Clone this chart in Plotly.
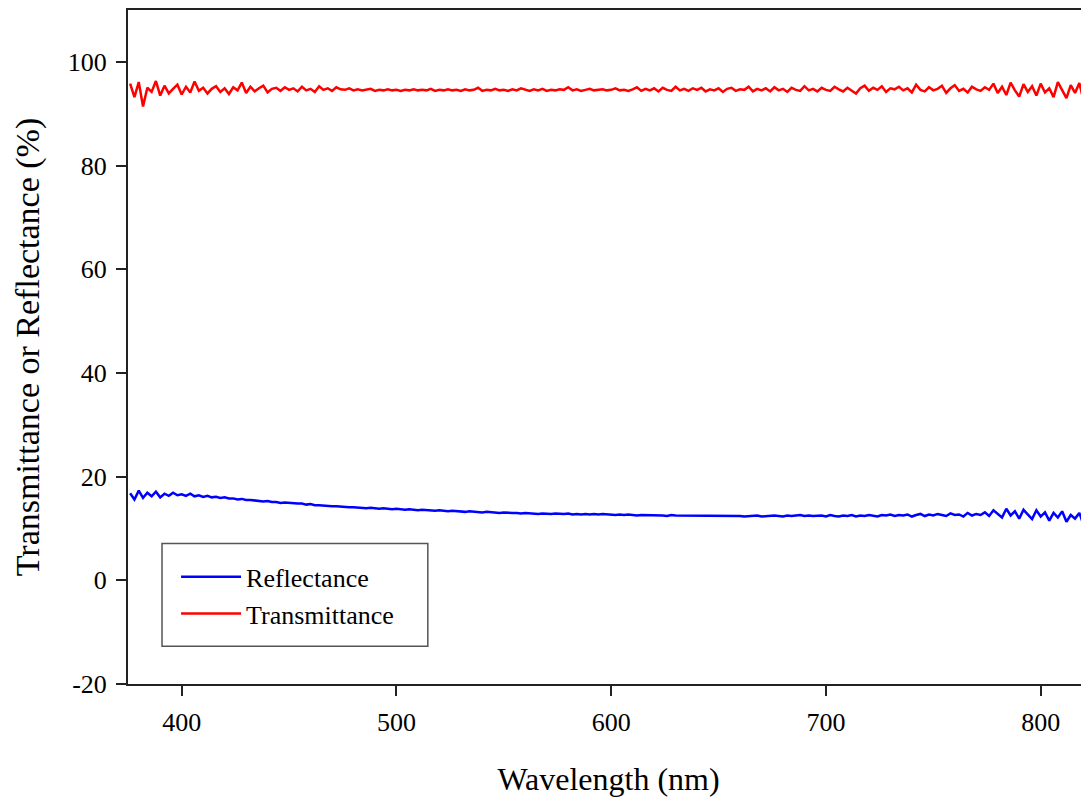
import plotly.graph_objects as go

# wavelength grid (nm), 2 nm steps from 376 to 822
wavelength = list(range(376, 823, 2))

transmittance = [
    95.8, 93.2, 96.1, 91.4, 95.0, 94.2, 96.3, 93.5, 95.4, 93.9,
    94.8, 95.6, 93.7, 95.2, 94.1, 96.2, 94.4, 95.0, 93.9, 94.8,
    95.3, 94.2, 94.9, 93.8, 95.1, 94.5, 96.0, 94.0, 95.2, 94.3,
    94.9, 95.4, 94.1, 94.8, 95.0, 94.4, 95.1, 94.6, 94.9, 94.3,
    95.2, 94.5, 94.8, 94.2, 95.3, 94.6, 94.9, 94.4, 95.1, 94.7,
    94.6, 94.9, 94.5, 94.7, 94.5, 94.6, 94.8, 94.4, 94.6, 94.5,
    94.7, 94.5, 94.6, 94.4, 94.6, 94.5, 94.7, 94.5, 94.6, 94.5,
    94.8, 94.4, 94.6, 94.5, 94.7, 94.5, 94.6, 94.4, 94.7, 94.5,
    94.6, 95.0, 94.4, 94.6, 94.5, 94.8, 94.5, 94.6, 94.4, 94.7,
    94.5, 94.9, 94.6, 94.4, 94.7, 94.5, 94.8, 94.4, 94.6, 94.5,
    94.7, 94.6, 95.1, 94.5, 94.7, 94.4, 94.6, 94.8, 94.5, 94.6,
    94.7, 94.5, 94.6, 94.9, 94.5, 94.6, 94.4, 94.7, 95.1, 94.4,
    94.8, 94.5, 94.9, 94.3, 95.0, 94.6, 94.4, 95.2, 94.5, 94.8,
    94.4, 94.9, 94.6, 95.0, 94.3, 94.7, 94.5, 94.9, 94.2, 94.8,
    95.0, 94.4, 94.7, 94.6, 95.2, 94.3, 94.8, 94.5, 94.9, 94.3,
    95.1, 94.5, 94.8, 94.2, 95.0, 94.6, 94.4, 95.3, 94.5, 94.8,
    94.3, 95.0, 94.6, 94.4, 95.2, 94.7, 94.3, 95.0, 94.5, 93.9,
    94.9, 95.4, 94.4, 95.0, 94.6, 95.3, 94.2, 94.9, 94.7, 95.2,
    94.5, 94.9, 94.1, 95.6, 94.6, 94.3, 95.1, 94.5, 94.8, 95.4,
    94.0, 94.9, 95.5, 94.4, 94.8, 94.1, 95.2, 94.7, 94.4, 95.1,
    94.6, 95.8, 94.0, 95.2, 93.6, 96.0, 94.5, 93.3, 95.7, 94.2,
    95.3, 93.5, 95.8, 94.1, 94.9, 93.2, 96.1, 94.6, 93.0, 95.5,
    94.0, 95.9, 92.5, 97.5,
]

reflectance = [
    16.8, 15.6, 17.3, 15.9, 16.9, 16.2, 17.1, 16.0, 16.7, 16.3,
    16.9, 16.4, 16.6, 16.3, 16.7, 16.2, 16.4, 16.1, 16.3, 16.0,
    16.1, 15.9, 16.0, 15.8, 15.8, 15.6, 15.7, 15.5, 15.5, 15.4,
    15.4, 15.2, 15.3, 15.1, 15.1, 14.9, 15.0, 14.9, 14.8, 14.8,
    14.8, 14.6, 14.7, 14.5, 14.5, 14.4, 14.4, 14.3, 14.3, 14.2,
    14.2, 14.1, 14.1, 14.0, 14.0, 13.9, 14.0, 13.9, 13.8, 13.9,
    13.8, 13.7, 13.8, 13.7, 13.6, 13.7, 13.6, 13.5, 13.6, 13.5,
    13.5, 13.4, 13.5, 13.4, 13.3, 13.4, 13.3, 13.3, 13.2, 13.3,
    13.2, 13.2, 13.1, 13.2, 13.1, 13.1, 13.0, 13.1, 13.0, 13.0,
    13.0, 12.9, 13.0, 12.9, 12.9, 12.8, 12.9, 12.8, 12.8, 12.9,
    12.8, 12.8, 12.9, 12.7, 12.8, 12.7, 12.8, 12.7, 12.8, 12.7,
    12.8, 12.7, 12.7, 12.6, 12.7, 12.6, 12.7, 12.6, 12.5, 12.6,
    12.6, 12.5, 12.6, 12.5, 12.5, 12.4, 12.6, 12.5, 12.5, 12.4,
    12.5, 12.4, 12.5, 12.5, 12.4, 12.5, 12.4, 12.4, 12.5, 12.4,
    12.4, 12.5, 12.4, 12.3, 12.4, 12.4, 12.5, 12.3, 12.4, 12.4,
    12.5, 12.4, 12.3, 12.5, 12.4, 12.5, 12.6, 12.4, 12.5, 12.4,
    12.4, 12.5, 12.3, 12.6, 12.4, 12.3, 12.5, 12.4, 12.6, 12.3,
    12.5, 12.4, 12.6, 12.5, 12.3, 12.6, 12.5, 12.7, 12.4, 12.6,
    12.5, 12.7, 12.3, 12.6, 12.8, 12.4, 12.7, 12.5, 12.8, 12.6,
    12.4, 12.9, 12.6, 12.7, 12.3, 13.0, 12.5, 12.8, 12.6, 13.1,
    12.4, 13.5, 12.7, 12.1, 13.8, 12.5, 13.3, 11.9, 13.6, 12.7,
    11.8, 13.5, 12.3, 13.1, 11.5, 13.0, 12.1, 13.3, 11.3, 12.6,
    11.9, 13.0, 10.6, 12.1,
]

x_ticks = [400, 500, 600, 700, 800]
y_ticks = [-20, 0, 20, 40, 60, 80, 100]
y_tick_labels = ["-20", "0", "20", "40", "60", "80", "100"]

FONT = "Liberation Serif"

fig = go.Figure()
fig.add_trace(go.Scatter(x=wavelength, y=reflectance, mode="lines", name="Reflectance",
                         line=dict(color="#0000FF", width=2.5)))
fig.add_trace(go.Scatter(x=wavelength, y=transmittance, mode="lines", name="Transmittance",
                         line=dict(color="#FF0000", width=2.5)))

# legend frame
fig.add_shape(type="rect", xref="paper", yref="paper",
              x0=0.0354, x1=0.312, y0=0.0561, y1=0.2083,
              line=dict(color="#555555", width=1.5), fillcolor="rgba(0,0,0,0)")

fig.update_layout(
    width=1081, height=793,
    margin=dict(l=120, r=0, t=0, b=117),
    paper_bgcolor="white", plot_bgcolor="white",
    font=dict(family=FONT, color="black", size=26),
    showlegend=True,
    legend=dict(x=0.05, y=0.194, xanchor="left", yanchor="top",
                bgcolor="rgba(0,0,0,0)", borderwidth=0,
                font=dict(family=FONT, size=26, color="black"),
                itemwidth=60, traceorder="normal"),
    xaxis=dict(range=[375, 822.5], tickvals=x_ticks, ticks="outside", ticklen=10,
               tickwidth=2, tickcolor="#222", showline=True, linecolor="#222",
               linewidth=2, mirror=True, showgrid=False, zeroline=False,
               tickfont=dict(family=FONT, size=26), ticklabelstandoff=4,
               title=dict(text="Wavelength (nm)", font=dict(family=FONT, size=32), standoff=31)),
    yaxis=dict(range=[-20, 110], tickvals=y_ticks, ticktext=y_tick_labels,
               ticks="outside", ticklen=10,
               tickwidth=2, tickcolor="#222", showline=True, linecolor="#222",
               linewidth=2, mirror=False, showgrid=False, zeroline=False,
               tickfont=dict(family=FONT, size=26), ticklabelstandoff=4,
               title=dict(text="Transmittance or Reflectance (%)", font=dict(family=FONT, size=34), standoff=18)),
)

fig.write_html("out.html")
